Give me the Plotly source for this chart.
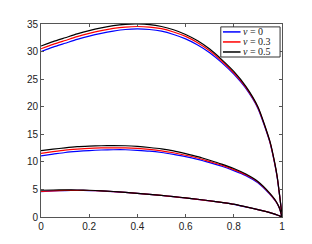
import plotly.graph_objects as go

# ---- data ----
x = [0, 0.05, 0.1, 0.15, 0.2, 0.25, 0.3, 0.35, 0.4, 0.45, 0.5, 0.55, 0.6, 0.65,
     0.7, 0.75, 0.8, 0.85, 0.9, 0.95, 0.97, 0.98, 0.99, 1.0]

# upper family
top_nu0 = [30.0, 30.8, 31.5, 32.2, 32.8, 33.3, 33.7, 34.0, 34.1, 34.0, 33.7, 33.1,
           32.3, 31.2, 29.8, 28.0, 25.9, 23.3, 19.7, 13.5, 9.6, 7.2, 3.9, 0.5]
top_nu03 = [30.5, 31.3, 32.0, 32.7, 33.3, 33.8, 34.2, 34.45, 34.55, 34.45, 34.15, 33.55,
            32.75, 31.6, 30.15, 28.3, 26.15, 23.5, 19.85, 13.6, 9.7, 7.3, 3.95, 0.3]
top_nu05 = [31.0, 31.8, 32.5, 33.2, 33.8, 34.3, 34.7, 34.95, 35.0, 34.9, 34.55, 33.95,
            33.1, 31.95, 30.45, 28.55, 26.4, 23.7, 20.0, 13.7, 9.8, 7.35, 4.0, 0.2]

# middle family
mid_nu0 = [11.1, 11.4, 11.7, 11.9, 12.05, 12.15, 12.2, 12.2, 12.1, 11.95, 11.7, 11.35,
           10.95, 10.45, 9.85, 9.2, 8.4, 7.5, 6.2, 4.1, 3.05, 2.4, 1.5, 0.0]
mid_nu03 = [11.55, 11.85, 12.12, 12.3, 12.45, 12.52, 12.55, 12.53, 12.43, 12.25, 12.0, 11.65,
            11.2, 10.7, 10.05, 9.4, 8.6, 7.65, 6.32, 4.2, 3.12, 2.45, 1.55, 0.0]
mid_nu05 = [12.05, 12.3, 12.55, 12.75, 12.85, 12.92, 12.95, 12.92, 12.8, 12.6, 12.35, 12.0,
            11.5, 10.95, 10.3, 9.6, 8.8, 7.8, 6.45, 4.3, 3.2, 2.5, 1.6, 0.0]

# lower family
low_nu0 = [4.6, 4.72, 4.8, 4.82, 4.8, 4.72, 4.6, 4.45, 4.28, 4.1, 3.9, 3.68,
           3.45, 3.2, 2.93, 2.63, 2.3, 1.83, 1.33, 0.79, 0.51, 0.36, 0.2, 0.0]
low_nu03 = [4.62, 4.74, 4.82, 4.84, 4.81, 4.73, 4.61, 4.46, 4.29, 4.11, 3.91, 3.69,
            3.46, 3.21, 2.94, 2.64, 2.31, 1.84, 1.34, 0.8, 0.52, 0.37, 0.2, 0.0]
low_nu05 = [4.85, 4.9, 4.92, 4.9, 4.85, 4.75, 4.62, 4.47, 4.3, 4.12, 3.92, 3.7,
            3.47, 3.22, 2.95, 2.65, 2.32, 1.85, 1.35, 0.8, 0.52, 0.37, 0.2, 0.0]

series_labels = ["<i>ν</i> = 0", "<i>ν</i> = 0.3", "<i>ν</i> = 0.5"]
series_colors = ["#0000ff", "#ff0000", "#000000"]

x_ticks = [0, 0.2, 0.4, 0.6, 0.8, 1]
x_tick_text = ["0", "0.2", "0.4", "0.6", "0.8", "1"]
y_ticks = [0, 5, 10, 15, 20, 25, 30, 35]
y_tick_text = ["0", "5", "10", "15", "20", "25", "30", "35"]

families = [
    [top_nu0, top_nu03, top_nu05],
    [mid_nu0, mid_nu03, mid_nu05],
    [low_nu0, low_nu03, low_nu05],
]

fig = go.Figure()
for fam in families:
    for ys, col, lab in zip(fam, series_colors, series_labels):
        fig.add_trace(go.Scatter(
            x=x, y=ys, mode="lines", name=lab,
            line=dict(color=col, width=1.2, shape="spline", smoothing=0.6),
            showlegend=False, hoverinfo="skip"))

# ---- hand-drawn compact legend (MATLAB style) ----
lx0, lx1 = 0.746, 0.992
ly0, ly1 = 0.829, 0.985
fig.add_shape(type="rect", xref="paper", yref="paper", x0=lx0, x1=lx1, y0=ly0, y1=ly1,
              line=dict(color="#333333", width=1), fillcolor="white", layer="above")
row_y = [0.959, 0.907, 0.855]
for ry, col, lab in zip(row_y, series_colors, series_labels):
    fig.add_shape(type="line", xref="paper", yref="paper", x0=0.755, x1=0.828, y0=ry, y1=ry,
                  line=dict(color=col, width=1.5), layer="above")
    fig.add_annotation(xref="paper", yref="paper", x=0.832, y=ry, text=lab, showarrow=False,
                       xanchor="left", yanchor="middle", borderpad=0,
                       font=dict(family="Liberation Serif", size=10, color="#222222"))

axis_common = dict(showline=True, linecolor="#555555", linewidth=1, mirror="ticks",
                   ticks="inside", ticklen=3, tickcolor="#555555", showgrid=False,
                   zeroline=False, tickfont=dict(family="Liberation Sans", size=10, color="#222222"))

# the page body adds an 8px offset, so the figure is 8px smaller and margins compensate
fig.update_layout(
    width=304, height=236,
    margin=dict(l=33, r=30, t=10, b=27),
    paper_bgcolor="white", plot_bgcolor="white",
    xaxis=dict(range=[0, 1], tickvals=x_ticks, ticktext=x_tick_text, **axis_common),
    yaxis=dict(range=[0, 35], tickvals=y_ticks, ticktext=y_tick_text, **axis_common),
    showlegend=False,
)

fig.write_html("out.html")
